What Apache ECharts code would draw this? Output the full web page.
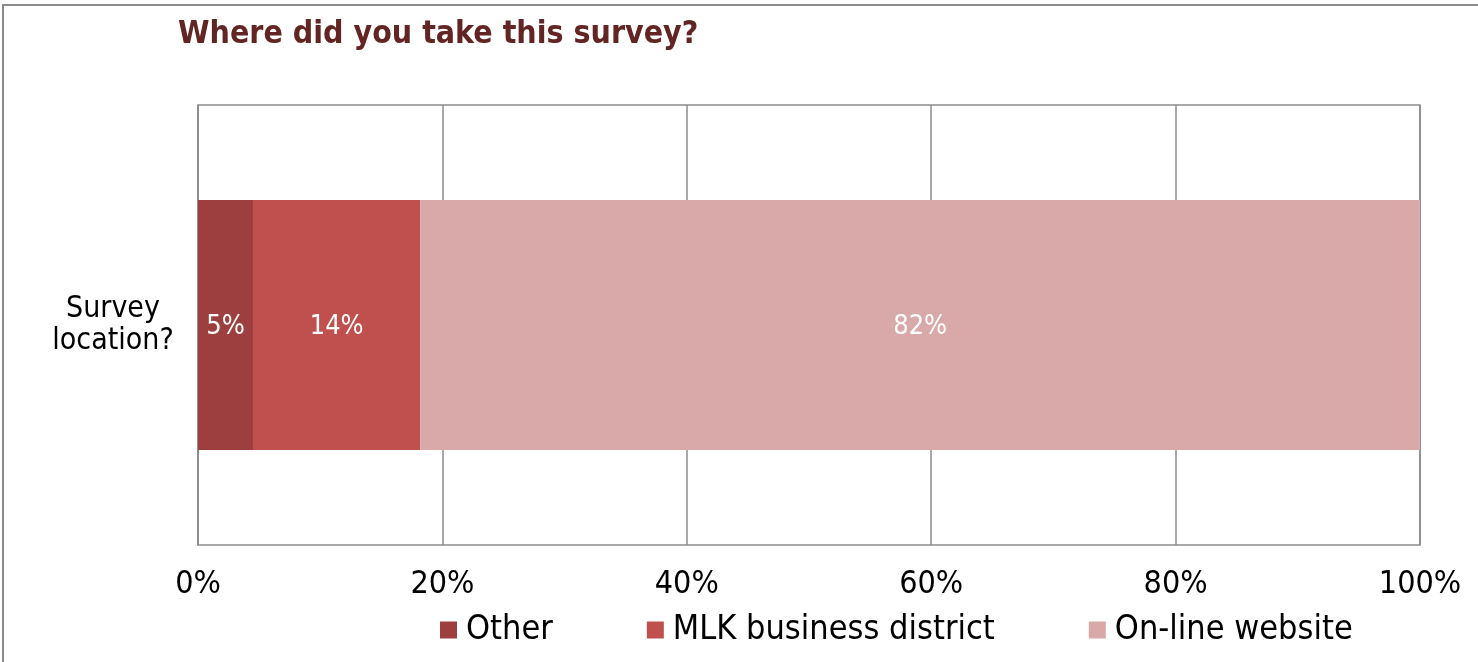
<!DOCTYPE html>
<html>
<head>
<meta charset="utf-8">
<title>Where did you take this survey?</title>
<script src="https://cdn.jsdelivr.net/npm/echarts@6/dist/echarts.min.js"></script>
<style>
html, body { margin: 0; padding: 0; background: #fff; }
#chart { position: absolute; left: 2px; top: 4px; width: 1476px; height: 658px;
         border-left: 2px solid #8c8c8c; border-top: 2px solid #8c8c8c; }
</style>
</head>
<body>
<div id="chart"></div>
<script>
// survey data (bar widths, labels show rounded %)
var categories = ['Survey\nlocation?'];
var seriesNames = ['Other', 'MLK business district', 'On-line website'];
var otherVals = [4.5];
var mlkVals = [13.7];
var onlineVals = [81.8];
var xTicks = [0, 20, 40, 60, 80, 100];

var colors = ['#9c3f3e', '#c0504d', '#d9a9a9'];
var font = '"DejaVu Sans Condensed", "DejaVu Sans", sans-serif';

function bar(name, data, color) {
    return {
        name: name,
        type: 'bar',
        stack: 'total',
        barWidth: 250,
        data: data,
        itemStyle: { color: color },
        label: {
            show: true,
            position: 'inside',
            offset: [0, 2],
            color: '#fff',
            fontFamily: font,
            fontSize: 27,
            formatter: function (p) { return Math.round(p.value) + '%'; }
        }
    };
}

var chart = echarts.init(document.getElementById('chart'));
chart.setOption({
    animation: false,
    title: {
        text: 'Where did you take this survey?',
        left: 169,
        top: 8,
        textStyle: { color: '#632523', fontFamily: font, fontWeight: 'bold', fontSize: 31.8 }
    },
    legend: {
        data: seriesNames,
        top: 602,
        left: 431,
        itemWidth: 17,
        itemHeight: 17,
        itemGap: 94,
        icon: 'rect',
        textStyle: { color: '#000', fontFamily: font, fontSize: 34, padding: [0, 0, 0, 4] }
    },
    grid: { left: 194, right: 60, top: 99, bottom: 119, containLabel: false },
    xAxis: {
        type: 'value',
        min: xTicks[0],
        max: xTicks[xTicks.length - 1],
        interval: 20,
        axisLine: { show: false },
        axisTick: { show: false },
        splitLine: { show: true, lineStyle: { color: '#8c8c8c', width: 1.5 } },
        axisLabel: { color: '#000', fontFamily: font, fontSize: 32, margin: 24,
                     formatter: function (v) { return v + '%'; } }
    },
    yAxis: {
        type: 'category',
        data: categories,
        axisLine: { show: true, lineStyle: { color: '#8c8c8c', width: 1.5 } },
        axisTick: { show: false },
        splitLine: { show: false },
        axisLabel: { color: '#000', fontFamily: font, fontSize: 30, margin: 85,
                     align: 'center', lineHeight: 32, padding: [4, 0, 0, 0] }
    },
    series: [
        bar(seriesNames[0], otherVals, colors[0]),
        bar(seriesNames[1], mlkVals, colors[1]),
        bar(seriesNames[2], onlineVals, colors[2])
    ],
    graphic: [{
        type: 'rect',
        shape: { x: 194, y: 99, width: 1222, height: 440 },
        style: { fill: 'none', stroke: '#8c8c8c', lineWidth: 1.5 },
        z: 0, silent: true
    }]
});
</script>
</body>
</html>
